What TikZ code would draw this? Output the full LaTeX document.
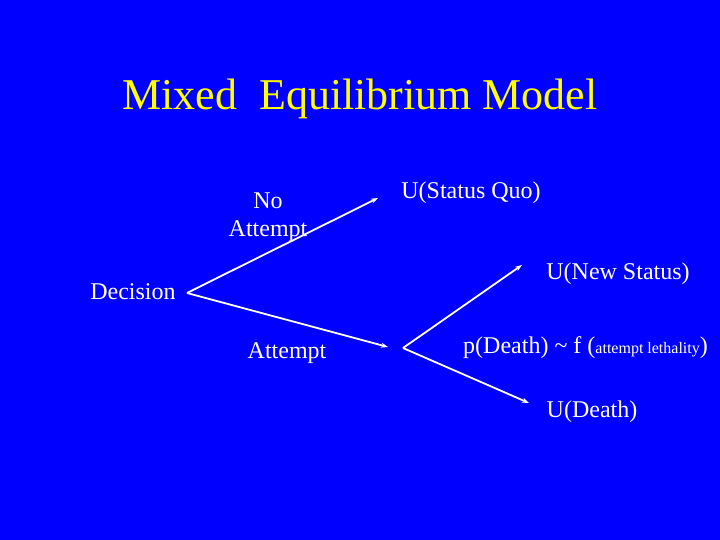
\documentclass[tikz,border=0pt]{standalone}
\usepackage{fontspec}
\setmainfont{Liberation Serif}
\usetikzlibrary{arrows.meta}

\definecolor{slideblue}{RGB}{0,0,255}
\definecolor{titleyellow}{RGB}{255,255,0}

\begin{document}
\begin{tikzpicture}[x=1pt,y=-1pt,
    label text/.style={text=white,inner sep=0pt,font=\fontsize{24}{28}\selectfont},
    branch/.style={draw=white,line width=1.8pt,-{Stealth[length=7pt,width=5pt]}}]
  \path[fill=slideblue] (0,0) rectangle (720,540);
  \useasboundingbox (0,0) rectangle (720,540);

  \node[text=titleyellow,inner sep=0pt,font=\fontsize{44}{48}\selectfont] (title) at (360,99) {Mixed\ \ Equilibrium Model};

  % tree points
  \coordinate (dec) at (187,293);
  \coordinate (noatt) at (378,198);
  \coordinate (att) at (388,347);
  \coordinate (chance) at (403,348);
  \coordinate (newst) at (522,265);
  \coordinate (death) at (529,403);

  \node[label text,align=center] (lblno) at (268,217) {No\\Attempt};
  \node[label text] (lblquo) at (471,193) {U(Status Quo)};
  \node[label text] (lbldec) at (133,292) {Decision};
  \node[label text] (lblatt) at (287,353) {Attempt};
  \node[label text] (lblnew) at (618,274) {U(New Status)};
  \node[label text,anchor=west] (lblp) at (463,348) {p(Death) \textasciitilde{} f ({\fontsize{16}{18}\selectfont attempt lethality})};
  \node[label text] (lbldeath) at (592,412) {U(Death)};

  \draw[branch] (dec) -- (noatt);
  \draw[branch] (dec) -- (att);
  \draw[branch] (chance) -- (newst);
  \draw[branch] (chance) -- (death);
\end{tikzpicture}
\end{document}
